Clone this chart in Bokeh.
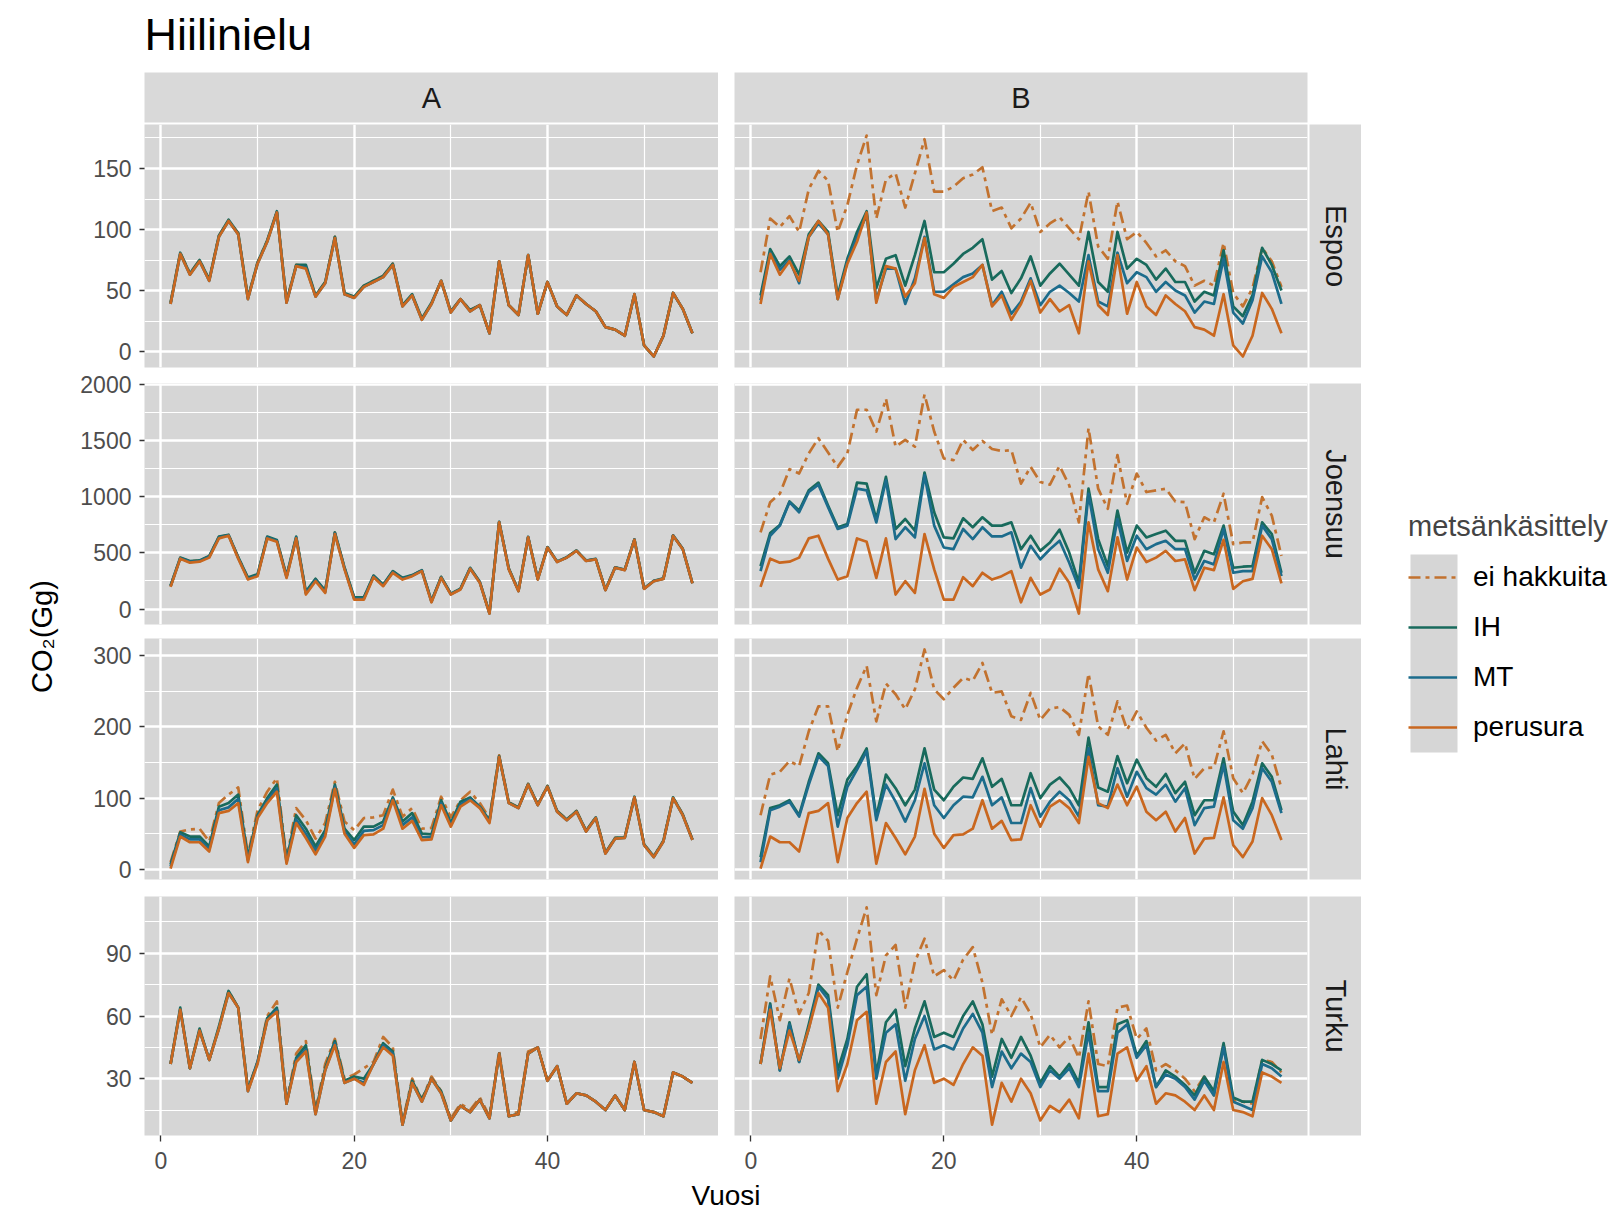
import math
from bokeh.plotting import figure
from bokeh.models import ColumnDataSource, FixedTicker, Range1d, Legend, LegendItem, Grid
from bokeh.layouts import row, column
from bokeh.embed import file_html
from bokeh.resources import INLINE
from bokeh.core.properties import value

# ---------------- data ----------------
years = list(range(1, 56))
facet_cols = ["A", "B"]
cities = ["Espoo", "Joensuu", "Lahti", "Turku"]
series_names = ["ei hakkuita", "IH", "MT", "perusura"]
chart_title = "Hiilinielu"
x_title = "Vuosi"
y_title = "CO₂(Gg)"
legend_title = "metsänkäsittely"

x_ticks = [0, 20, 40]
x_minor = [10, 30, 50]
y_ticks = {"Espoo": [0, 50, 100, 150], "Joensuu": [0, 500, 1000, 1500, 2000],
           "Lahti": [0, 100, 200, 300], "Turku": [30, 60, 90]}
y_minor = {"Espoo": [25, 75, 125, 175], "Joensuu": [250, 750, 1250, 1750],
           "Lahti": [50, 150, 250], "Turku": [15, 45, 75, 105]}

# Espoo
espoo_perusura = [39, 80, 63, 74, 58, 94, 107, 96, 43, 72, 90, 114, 40, 70, 68, 45, 56, 93, 47, 44, 53, 57, 61, 71, 37, 46, 26, 39, 58, 32, 43, 33, 38, 15, 74, 38, 30, 79, 31, 57, 37, 30, 46, 39, 33, 20, 18, 13, 47, 5, -4, 13, 48, 35, 15]
espoo_A_ei = [40, 81, 64, 75, 59, 95, 107, 97, 44, 73, 91, 114, 41, 71, 70, 46, 57, 94, 47, 45, 54, 58, 62, 72, 38, 46, 27, 39, 58, 33, 43, 34, 38, 15, 74, 38, 30, 79, 31, 57, 37, 30, 46, 39, 33, 20, 18, 13, 47, 5, -4, 13, 48, 35, 15]
espoo_A_IH = [40, 81, 64, 75, 59, 95, 108, 97, 44, 73, 91, 115, 41, 71, 71, 46, 57, 94, 48, 45, 54, 58, 62, 72, 38, 47, 27, 40, 58, 33, 43, 34, 38, 15, 74, 38, 30, 79, 31, 57, 37, 30, 46, 39, 33, 20, 18, 13, 47, 5, -4, 13, 48, 35, 15]
espoo_A_MT = [39, 80, 63, 74, 58, 94, 107, 96, 43, 72, 90, 114, 40, 70, 69, 45, 56, 93, 47, 44, 53, 57, 61, 71, 37, 46, 26, 39, 58, 32, 43, 33, 38, 15, 74, 38, 30, 79, 31, 57, 37, 30, 46, 39, 33, 20, 18, 13, 47, 5, -4, 13, 48, 35, 15]
espoo_B_ei = [65, 109, 102, 111, 98, 133, 148, 140, 98, 120, 153, 177, 109, 141, 146, 118, 146, 174, 131, 131, 135, 142, 145, 151, 115, 118, 101, 109, 122, 98, 105, 110, 101, 92, 131, 86, 76, 123, 92, 98, 89, 78, 83, 74, 70, 54, 58, 54, 89, 48, 37, 52, 85, 74, 53]
espoo_B_IH = [46, 84, 70, 78, 63, 96, 107, 98, 46, 76, 98, 115, 52, 76, 79, 54, 79, 107, 65, 65, 72, 80, 85, 92, 59, 66, 48, 60, 78, 54, 64, 72, 63, 54, 98, 57, 49, 98, 68, 76, 71, 59, 68, 57, 57, 41, 49, 46, 83, 37, 29, 46, 85, 71, 50]
espoo_B_MT = [42, 81, 67, 75, 56, 94, 105, 96, 43, 74, 94, 112, 42, 68, 68, 39, 60, 94, 49, 49, 55, 61, 64, 71, 38, 49, 31, 41, 60, 38, 49, 54, 48, 41, 79, 41, 37, 81, 56, 65, 61, 49, 57, 50, 46, 32, 41, 39, 76, 32, 23, 42, 78, 65, 39]

# Joensuu
joensuu_perusura = [198, 449, 413, 422, 458, 629, 653, 449, 263, 293, 629, 599, 278, 629, 129, 248, 144, 668, 353, 84, 84, 284, 204, 323, 263, 293, 338, 60, 278, 129, 174, 359, 234, -40, 772, 353, 159, 638, 263, 548, 419, 458, 518, 428, 443, 168, 368, 347, 617, 180, 248, 269, 653, 533, 228]
joensuu_A_ei = [205, 455, 425, 430, 470, 640, 660, 460, 275, 305, 640, 610, 290, 640, 150, 265, 160, 680, 365, 100, 100, 295, 215, 335, 275, 300, 345, 70, 285, 135, 180, 365, 240, -37, 775, 358, 163, 640, 266, 550, 421, 460, 520, 430, 445, 170, 370, 349, 619, 182, 250, 271, 655, 535, 230]
joensuu_A_IH = [210, 458, 428, 433, 472, 645, 662, 462, 280, 310, 645, 615, 295, 645, 155, 270, 165, 682, 370, 105, 105, 298, 218, 338, 278, 302, 347, 72, 287, 137, 182, 367, 242, -35, 777, 360, 165, 642, 268, 552, 423, 462, 522, 432, 447, 172, 372, 351, 621, 184, 252, 273, 657, 537, 232]
joensuu_A_MT = [203, 452, 420, 427, 465, 636, 657, 455, 270, 300, 636, 605, 285, 636, 140, 258, 152, 675, 360, 92, 92, 290, 210, 330, 270, 297, 342, 65, 282, 132, 177, 362, 237, -39, 774, 356, 161, 640, 265, 550, 420, 459, 519, 429, 444, 169, 369, 348, 618, 181, 249, 270, 654, 534, 229]
joensuu_B_ei = [683, 952, 1027, 1246, 1207, 1386, 1521, 1395, 1266, 1386, 1775, 1775, 1581, 1874, 1446, 1506, 1446, 1911, 1581, 1341, 1326, 1506, 1416, 1497, 1425, 1407, 1416, 1117, 1266, 1132, 1108, 1275, 1102, 772, 1611, 1072, 892, 1371, 937, 1207, 1042, 1057, 1072, 958, 952, 623, 817, 772, 1027, 578, 593, 593, 997, 832, 473]
joensuu_B_IH = [383, 677, 749, 958, 877, 1057, 1126, 922, 728, 758, 1126, 1117, 802, 1177, 713, 802, 698, 1216, 862, 638, 629, 808, 728, 817, 743, 743, 772, 533, 653, 518, 593, 707, 503, 234, 1072, 623, 383, 877, 503, 743, 638, 668, 698, 608, 608, 323, 518, 488, 743, 368, 377, 383, 772, 668, 323]
joensuu_B_MT = [338, 653, 743, 952, 862, 1042, 1108, 907, 713, 743, 1072, 1057, 772, 1147, 623, 728, 638, 1192, 743, 548, 533, 713, 623, 728, 647, 647, 683, 368, 563, 443, 533, 608, 413, 189, 1027, 533, 323, 802, 428, 653, 533, 578, 608, 533, 533, 263, 428, 398, 713, 323, 338, 338, 743, 623, 293]

# Lahti
lahti_perusura = [1, 46, 38, 38, 25, 79, 82, 93, 10, 72, 93, 109, 8, 65, 44, 21, 46, 113, 50, 30, 48, 49, 57, 97, 57, 68, 41, 42, 90, 60, 88, 97, 86, 65, 158, 93, 86, 119, 90, 116, 81, 69, 81, 53, 72, 22, 43, 44, 101, 34, 17, 39, 100, 76, 41]
lahti_A_ei = [10, 53, 56, 57, 39, 93, 105, 115, 20, 83, 109, 128, 15, 86, 69, 43, 65, 123, 67, 55, 72, 73, 76, 112, 74, 86, 57, 58, 102, 73, 97, 109, 93, 72, 160, 94, 87, 120, 91, 117, 82, 70, 82, 54, 73, 23, 44, 45, 102, 35, 18, 40, 101, 77, 42]
lahti_A_IH = [7, 52, 46, 46, 32, 88, 93, 105, 17, 76, 100, 119, 13, 76, 57, 32, 55, 119, 57, 41, 60, 60, 67, 101, 67, 79, 50, 49, 97, 65, 95, 101, 88, 69, 159, 94, 87, 120, 91, 117, 82, 70, 82, 54, 73, 23, 44, 45, 102, 35, 18, 40, 101, 77, 42]
lahti_A_MT = [4, 49, 42, 42, 28, 83, 87, 99, 13, 74, 96, 114, 10, 70, 50, 26, 50, 116, 53, 35, 54, 55, 62, 99, 62, 73, 45, 45, 93, 62, 91, 99, 87, 67, 158, 93, 86, 119, 90, 116, 81, 69, 81, 53, 72, 22, 43, 44, 101, 34, 17, 39, 100, 76, 41]
lahti_B_ei = [76, 133, 137, 152, 145, 194, 229, 229, 166, 217, 255, 286, 208, 261, 246, 225, 253, 309, 253, 239, 255, 269, 265, 290, 248, 250, 215, 210, 248, 210, 226, 228, 217, 189, 275, 201, 189, 236, 196, 222, 199, 181, 189, 163, 177, 127, 142, 143, 194, 128, 107, 133, 180, 161, 114]
lahti_B_IH = [17, 86, 90, 97, 76, 123, 163, 149, 76, 126, 145, 170, 74, 133, 114, 90, 112, 170, 112, 97, 116, 129, 127, 156, 116, 127, 90, 90, 135, 100, 119, 129, 114, 90, 185, 115, 109, 159, 121, 154, 128, 116, 134, 107, 123, 76, 97, 97, 156, 81, 62, 95, 149, 130, 83]
lahti_B_MT = [10, 83, 88, 95, 74, 119, 159, 145, 60, 116, 140, 166, 69, 119, 95, 67, 97, 149, 90, 72, 90, 102, 101, 130, 90, 101, 65, 65, 114, 74, 95, 109, 97, 74, 170, 90, 88, 142, 102, 137, 114, 105, 119, 95, 114, 62, 86, 88, 147, 69, 57, 86, 142, 123, 79]

# Turku
turku_perusura = [37, 63, 35, 53, 39, 54, 71, 64, 24, 37, 58, 62, 18, 38, 43, 13, 34, 46, 28, 30, 27, 37, 45, 41, 8, 28, 19, 30, 23, 10, 17, 14, 20, 11, 42, 12, 13, 42, 45, 29, 36, 18, 23, 22, 19, 15, 22, 15, 38, 15, 14, 12, 33, 31, 28]
turku_A_ei = [37, 63, 35, 53, 39, 54, 72, 64, 25, 38, 60, 67, 19, 42, 48, 15, 37, 49, 30, 32, 35, 38, 50, 45, 9, 30, 20, 31, 24, 11, 18, 15, 21, 12, 43, 13, 14, 43, 45, 29, 36, 18, 23, 22, 19, 15, 22, 15, 38, 15, 14, 12, 33, 31, 28]
turku_A_IH = [37, 64, 35, 54, 39, 55, 72, 64, 25, 38, 59, 64, 18, 40, 46, 14, 35, 48, 29, 31, 30, 37, 47, 43, 8, 29, 20, 30, 24, 10, 17, 14, 20, 11, 42, 12, 13, 42, 45, 29, 36, 18, 23, 22, 19, 15, 22, 15, 38, 15, 14, 12, 33, 31, 28]
turku_A_MT = [37, 63, 35, 53, 39, 54, 71, 64, 24, 38, 58, 63, 18, 39, 44, 13, 34, 47, 28, 30, 28, 37, 46, 42, 8, 28, 19, 30, 23, 10, 17, 14, 20, 11, 42, 12, 13, 42, 45, 29, 36, 18, 23, 22, 19, 15, 22, 15, 38, 15, 14, 12, 33, 31, 28]
turku_B_ei = [49, 79, 58, 78, 61, 71, 101, 96, 64, 81, 97, 112, 70, 89, 94, 64, 86, 97, 79, 82, 77, 87, 93, 76, 51, 68, 60, 69, 61, 45, 51, 45, 50, 40, 67, 37, 36, 64, 65, 49, 54, 34, 37, 34, 30, 24, 31, 22, 46, 20, 19, 18, 39, 38, 33]
turku_B_IH = [37, 66, 34, 57, 38, 56, 75, 70, 34, 49, 74, 80, 32, 57, 63, 36, 54, 67, 50, 52, 50, 60, 67, 56, 31, 49, 40, 50, 41, 28, 36, 31, 37, 28, 57, 26, 26, 56, 58, 41, 48, 26, 34, 31, 27, 22, 31, 24, 47, 21, 19, 19, 39, 37, 34]
turku_B_MT = [37, 65, 34, 56, 38, 54, 74, 68, 30, 46, 70, 74, 30, 52, 56, 29, 49, 60, 44, 46, 44, 54, 61, 52, 26, 43, 35, 42, 38, 26, 34, 30, 35, 26, 52, 24, 24, 52, 56, 40, 46, 26, 32, 30, 26, 20, 29, 22, 45, 19, 17, 15, 37, 35, 31]

data = {
    ("Espoo", "A"): [espoo_A_ei, espoo_A_IH, espoo_A_MT, espoo_perusura],
    ("Espoo", "B"): [espoo_B_ei, espoo_B_IH, espoo_B_MT, espoo_perusura],
    ("Joensuu", "A"): [joensuu_A_ei, joensuu_A_IH, joensuu_A_MT, joensuu_perusura],
    ("Joensuu", "B"): [joensuu_B_ei, joensuu_B_IH, joensuu_B_MT, joensuu_perusura],
    ("Lahti", "A"): [lahti_A_ei, lahti_A_IH, lahti_A_MT, lahti_perusura],
    ("Lahti", "B"): [lahti_B_ei, lahti_B_IH, lahti_B_MT, lahti_perusura],
    ("Turku", "A"): [turku_A_ei, turku_A_IH, turku_A_MT, turku_perusura],
    ("Turku", "B"): [turku_B_ei, turku_B_IH, turku_B_MT, turku_perusura],
}

# ---------------- style ----------------
FONT = "Liberation Sans"
PANEL_BG = "#D6D6D6"
STRIP_BG = "#D9D9D9"
COLORS = {"ei hakkuita": "#C2722F", "IH": "#186A5C", "MT": "#1C6C8C", "perusura": "#C9671F"}
DASH = {"ei hakkuita": "12 5 4 5", "IH": "solid", "MT": "solid", "perusura": "solid"}
LW = 2.7

LEFT_W = 64
A_W, B_W = 574, 573
GAP = 16
RSTRIP_W = 52
LEG_W = 1616 - (LEFT_W + 80 + A_W + GAP + B_W + 2 + RSTRIP_W)
TITLE_H = 72
STRIP_H = 50
ROW_H = [243, 241, 241, 239]
ROW_BT = [0, 12, 0, 0]
ROW_BB = [4, 14, 17, 42]
XT_H = 1211 - (TITLE_H + STRIP_H + 2 + sum(ROW_H) + sum(ROW_BT) + sum(ROW_BB))


def base_fig(**kw):
    p = figure(output_backend="svg", toolbar_location=None, **kw)
    p.outline_line_color = None
    p.border_fill_color = "white"
    return p


def style_axis(ax, standoff, tick_out):
    ax.axis_line_color = None
    ax.major_tick_line_color = "#333333"
    ax.major_tick_line_width = 1.3
    ax.major_tick_out = tick_out
    ax.major_tick_in = 0
    ax.minor_tick_line_color = None
    ax.major_label_text_font = FONT
    ax.major_label_text_font_size = "23px"
    ax.major_label_text_color = "#4D4D4D"
    ax.major_label_standoff = standoff


def yrange(city):
    vals = [v for c in facet_cols for s in data[(city, c)] for v in s]
    lo, hi = min(vals), max(vals)
    pad = (hi - lo) * 0.05
    return lo - pad, hi + pad


def make_panel(city, ci, col, j):
    last = ci == len(cities) - 1
    p = base_fig(frame_width=A_W if j == 0 else B_W, frame_height=ROW_H[ci],
                 x_range=Range1d(-1.7, 57.7), y_range=Range1d(*yrange(city)),
                 min_border_left=80 if j == 0 else GAP, min_border_right=0 if j == 0 else 2,
                 min_border_top=ROW_BT[ci], min_border_bottom=ROW_BB[ci],
                 x_axis_type="linear" if last else None,
                 y_axis_type="linear" if j == 0 else None)
    p.background_fill_color = PANEL_BG
    if last:
        p.xaxis.ticker = FixedTicker(ticks=x_ticks)
        style_axis(p.xaxis[0], 10, 6)
    if j == 0:
        p.yaxis.ticker = FixedTicker(ticks=y_ticks[city])
        style_axis(p.yaxis[0], 8, 5)
    xg = Grid(dimension=0, ticker=FixedTicker(ticks=x_ticks, minor_ticks=x_minor))
    yg = Grid(dimension=1, ticker=FixedTicker(ticks=y_ticks[city], minor_ticks=y_minor[city]))
    for g in (xg, yg):
        g.grid_line_color = "white"
        g.grid_line_width = 2.4
        g.minor_grid_line_color = "white"
        g.minor_grid_line_width = 1.2
        g.level = "underlay"
    p.center = [xg, yg]
    for s, ys in zip(series_names, data[(city, col)]):
        src = ColumnDataSource(dict(x=years, y=ys))
        p.line("x", "y", source=src, line_color=COLORS[s], line_width=LW,
               line_dash=DASH[s], line_join="round")
    return p


def strip_fig(label, w, h, vertical=False, **kw):
    p = base_fig(frame_width=w, frame_height=h, x_range=Range1d(0, 1), y_range=Range1d(0, 1),
                 x_axis_type=None, y_axis_type=None, **kw)
    p.background_fill_color = STRIP_BG
    src = ColumnDataSource(dict(x=[0.5], y=[0.5], t=[label]))
    p.text("x", "y", text="t", source=src, text_align="center", text_baseline="middle",
           text_font=value(FONT), text_font_size="29px", text_color="#1A1A1A",
           angle=-math.pi / 2 if vertical else 0)
    return p


# chart title (own figure above the strips)
TW = A_W + GAP + B_W + 2 + RSTRIP_W
tf = base_fig(frame_width=TW, frame_height=TITLE_H, x_range=Range1d(0, TW), y_range=Range1d(0, TITLE_H),
              x_axis_type=None, y_axis_type=None, min_border_left=80, min_border_right=0,
              min_border_top=0, min_border_bottom=0)
tf.text(x=[0], y=[TITLE_H - 34], text=[chart_title], text_align="left", text_baseline="middle",
        text_font=value(FONT), text_font_size="45px", text_color="#000000")

# header strips
stripA = strip_fig(facet_cols[0], A_W, STRIP_H, min_border_left=80, min_border_right=0,
                   min_border_top=0, min_border_bottom=2)
stripB = strip_fig(facet_cols[1], B_W, STRIP_H, min_border_left=GAP, min_border_right=2 + RSTRIP_W,
                   min_border_top=0, min_border_bottom=2)
rows = [tf, row(stripA, stripB)]

for ci, city in enumerate(cities):
    pa = make_panel(city, ci, "A", 0)
    pb = make_panel(city, ci, "B", 1)
    rs = strip_fig(city, RSTRIP_W, ROW_H[ci], vertical=True, min_border_left=0,
                   min_border_right=0, min_border_top=ROW_BT[ci], min_border_bottom=ROW_BB[ci])
    rows.append(row(pa, pb, rs))

# x title
xt = base_fig(frame_width=A_W + GAP + B_W, frame_height=XT_H, x_range=Range1d(0, 1), y_range=Range1d(0, XT_H),
              x_axis_type=None, y_axis_type=None, min_border_left=80, min_border_right=2 + RSTRIP_W,
              min_border_top=0, min_border_bottom=0)
xt.text(x=[0.5], y=[1211 - 1195], text=[x_title], text_align="center", text_baseline="middle",
        text_font=value(FONT), text_font_size="28px", text_color="#000000")
rows.append(xt)

# y title (own narrow figure to the left of the panels)
LT_TOP = 500
LT_H = 1211 - LT_TOP
left = base_fig(frame_width=LEFT_W, frame_height=LT_H, x_range=Range1d(0, LEFT_W), y_range=Range1d(0, LT_H),
                x_axis_type=None, y_axis_type=None, min_border_left=0, min_border_right=0,
                min_border_top=LT_TOP, min_border_bottom=0)
left.text(x=[41], y=[1211 - 626], text=[y_title], text_align="center", text_baseline="middle",
          angle=math.pi / 2, text_font=value(FONT), text_font_size="29px", text_color="#000000")

# legend
LEG_TOP = 510
H = 1211 - LEG_TOP
leg = base_fig(frame_width=LEG_W - 47, frame_height=H, x_range=Range1d(0, LEG_W - 47),
               y_range=Range1d(0, H), x_axis_type=None, y_axis_type=None,
               min_border_left=47, min_border_right=0, min_border_top=LEG_TOP, min_border_bottom=0)
leg.quad(left=[2], right=[49], top=[H - 44], bottom=[H - 242], fill_color=PANEL_BG, line_color=None)
items = []
nan = float("nan")
for s in series_names:
    r = leg.line(x=[nan, nan], y=[nan, nan], line_color=COLORS[s], line_width=LW, line_dash=DASH[s])
    items.append(LegendItem(label=s, renderers=[r]))
lg = Legend(items=items, location="top_left", title=legend_title, margin=0, padding=0, spacing=0,
            glyph_width=49, glyph_height=50, label_height=50, label_standoff=16,
            border_line_color=None, background_fill_alpha=0,
            label_text_font=FONT, label_text_font_size="28px", label_text_color="#000000",
            title_text_font=FONT, title_text_font_size="29px", title_text_font_style="normal",
            title_standoff=9)
leg.add_layout(lg)

layout = row(left, column(*rows), leg)
open("out.html", "w").write(file_html(layout, INLINE))
